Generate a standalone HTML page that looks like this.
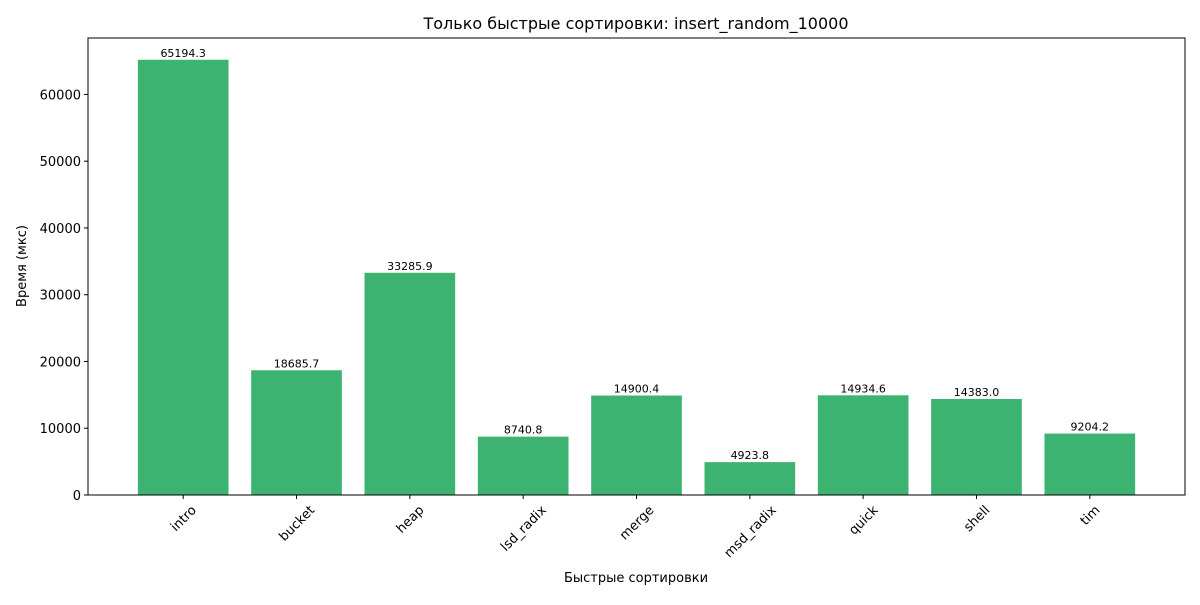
<!DOCTYPE html>
<html><head><meta charset="utf-8"><style>
body{margin:0;background:#fff;font-family:"Liberation Sans","DejaVu Sans",sans-serif;}
svg text{font-family:"DejaVu Sans","Liberation Sans",sans-serif;}
</style></head><body>
<svg id="chart" width="1200" height="600" viewBox="0 0 1200 600" xmlns="http://www.w3.org/2000/svg">
<rect width="1200" height="600" fill="#fff"/>
<text x="636" y="29" font-size="16" text-anchor="middle">Только быстрые сортировки: insert_random_10000</text>
<text x="636" y="582" font-size="13" text-anchor="middle">Быстрые сортировки</text>
<text transform="translate(26,266) rotate(-90)" font-size="13" text-anchor="middle">Время (мкс)</text>
<g id="bars"></g>
<g id="axes"></g>
<rect x="88" y="38" width="1097" height="457" fill="none" stroke="#000" stroke-width="1"/>
</svg>
<script>
const categories = ["intro","bucket","heap","lsd_radix","merge","msd_radix","quick","shell","tim"];
const values = [65194.3,18685.7,33285.9,8740.8,14900.4,4923.8,14934.6,14383.0,9204.2];
const yTicks = [0,10000,20000,30000,40000,50000,60000];

const L=88,R=1185,T=38,B=495;
const yMax = Math.max(...values)*1.05;
const xMin=-0.84, xMax=categories.length-1+0.84;
const xs = i => L+(i-xMin)/(xMax-xMin)*(R-L);
const ys = v => B-v/yMax*(B-T);
const unit=(R-L)/(xMax-xMin);
const NS="http://www.w3.org/2000/svg";
const bars=document.getElementById('bars'), axes=document.getElementById('axes');
function mk(tag,attrs,parent){const e=document.createElementNS(NS,tag);for(const k in attrs)e.setAttribute(k,attrs[k]);parent.appendChild(e);return e;}
categories.forEach((c,i)=>{
  const cx=xs(i), w=0.8*unit, y=ys(values[i]);
  const r=mk('rect',{x:cx-w/2,y:y,width:w,height:B-y,fill:'#3cb371'},bars);
  
  
  const t=mk('text',{x:cx,y:y-3,'font-size':'11','text-anchor':'middle'},bars);
  t.textContent=values[i].toFixed(1);
  
  
  mk('line',{x1:cx,x2:cx,y1:B,y2:B+4,stroke:'#000'},axes);
  const lt=mk('text',{'font-size':'13','text-anchor':'middle',x:0,y:0,dy:'0.35em'},axes);
  lt.textContent=c;
  const tw=lt.getComputedTextLength();
  const half=(tw+13)*0.7071/2;
  lt.setAttribute('transform',`translate(${cx},${B+8+half}) rotate(-45)`);
  
  
});
yTicks.forEach(v=>{
  const y=ys(v);
  mk('line',{x1:L-4,x2:L,y1:y,y2:y,stroke:'#000'},axes);
  const t=mk('text',{x:L-7,y:y+5,'font-size':'13','text-anchor':'end'},axes);
  t.textContent=v;
  
  
});
</script>
</body></html>
